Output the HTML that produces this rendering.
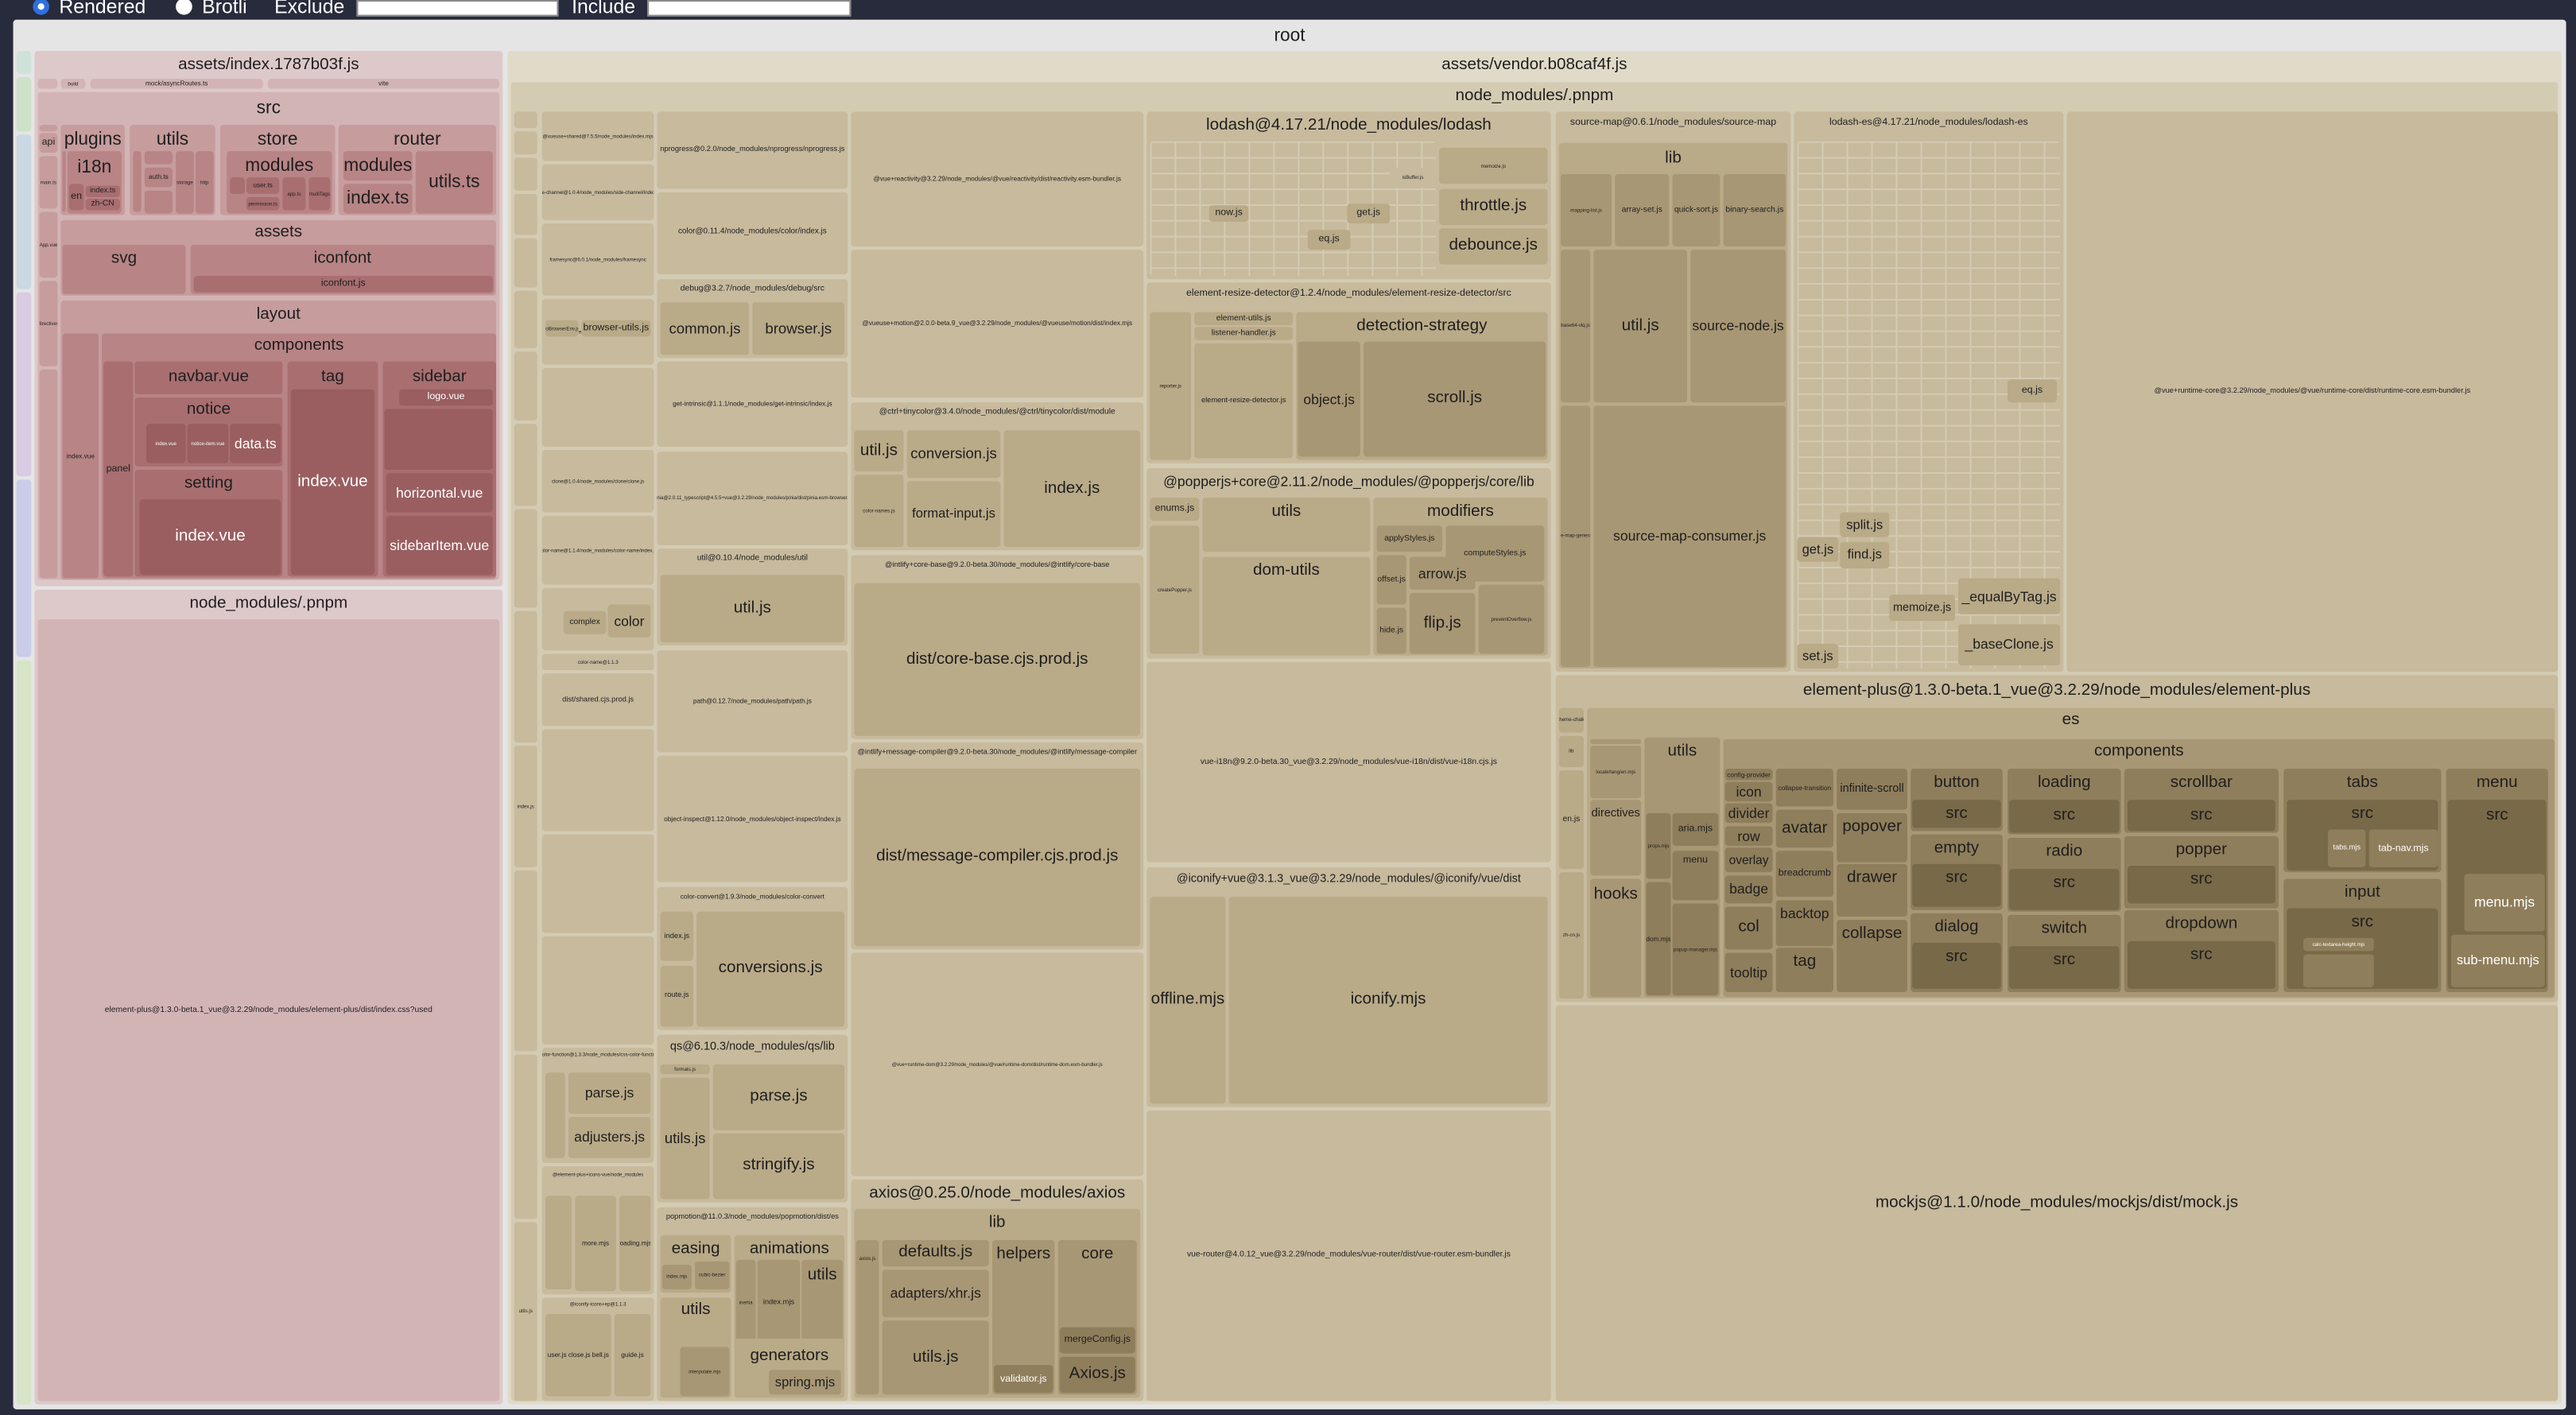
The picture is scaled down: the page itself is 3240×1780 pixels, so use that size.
<!DOCTYPE html>
<html><head><meta charset="utf-8"><style>
html,body{margin:0;padding:0;background:#282b3c;width:3240px;height:1780px;overflow:hidden}
#w{position:absolute;left:0;top:0;width:1568px;height:861px;transform:scale(2.0663);transform-origin:0 0;font-family:"Liberation Sans",sans-serif}
.b{position:absolute;box-sizing:border-box;border-radius:2px;display:flex;justify-content:center;align-items:center;text-align:center;overflow:hidden;white-space:nowrap;color:#1e1e1e;line-height:1;font-size:5px}
.t{align-items:flex-start;padding-top:4px}
.s{font-size:3px}.m{font-size:6px}.l{font-size:8.5px}.x{font-size:10px}.xl{font-size:11px}
.w{color:#fff}
.p0{background:#dec9ca}.p1{background:#d3b4b5}.p2{background:#c69c9d}.p3{background:#b88486}.p4{background:#a86e70}.p5{background:#9a5e60}
.t0{background:#e0dac8}.t1{background:#d4cbb3}.t2{background:#c7ba9d}.t3{background:#b9aa88}.t4{background:#a89774}.t5{background:#8f7e5b}.t6{background:#786948}
.g{background:linear-gradient(90deg,#d4cbb3 1px,transparent 1px) 0 0/15px 100%,linear-gradient(#d4cbb3 1px,transparent 1px) 0 0/100% 9.6px,#c7ba9d}
.top{position:absolute;top:-3px;font-size:12px;color:#fff;display:flex;align-items:center}
.rad{width:10px;height:10px;border-radius:50%;background:#fff;display:inline-block;margin-right:6px;box-sizing:border-box}
.inp{position:absolute;top:0;height:10px;background:#fff;border:1px solid #888;box-sizing:border-box}
</style></head><body><div id="w">
<div class="top" style="left:20px"><span class="rad" style="border:3px solid #2f6fe0"></span>Rendered</div>
<div class="top" style="left:107px"><span class="rad"></span>Brotli</div>
<div class="top" style="left:167px">Exclude</div><div class="inp" style="left:217px;width:123px"></div>
<div class="top" style="left:348px">Include</div><div class="inp" style="left:394px;width:124px"></div>

<div class="b t xl" style="left:8px;top:12px;width:1554px;height:846px;background:#e5e5e5;padding-top:5px">root</div>
<div class="b" style="left:10px;top:31px;width:9px;height:14px;background:#cfe2d9"></div>
<div class="b" style="left:10px;top:47px;width:9px;height:33px;background:#cde2c8"></div>
<div class="b" style="left:10px;top:82px;width:9px;height:94px;background:#c9d8e2"></div>
<div class="b" style="left:10px;top:178px;width:9px;height:112px;background:#d8cbe2"></div>
<div class="b" style="left:10px;top:292px;width:9px;height:108px;background:#c9cdea"></div>
<div class="b" style="left:10px;top:402px;width:9px;height:453px;background:#d6e5c8"></div>

<!-- pink -->
<div class="b t x p0" style="left:21px;top:31px;width:285px;height:326px">assets/index.1787b03f.js</div>
<div class="b p1" style="left:23px;top:48px;width:12px;height:6px"></div>
<div class="b p1 s" style="left:37px;top:48px;width:15px;height:6px">build</div>
<div class="b p1 s" style="left:55px;top:48px;width:105px;height:6px;font-size:4px">mock/asyncRoutes.ts</div>
<div class="b p1 s" style="left:163px;top:48px;width:141px;height:6px;font-size:4px">vite</div>
<div class="b t xl p1" style="left:23px;top:56px;width:281px;height:297px;padding-top:5px">src</div>
<div class="b p2" style="left:24px;top:76px;width:11px;height:4px"></div>
<div class="b p2 m" style="left:24px;top:81px;width:11px;height:12px">api</div>
<div class="b p2 s" style="left:24px;top:95px;width:11px;height:32px">main.ts</div>
<div class="b p2 s" style="left:24px;top:129px;width:11px;height:40px">App.vue</div>
<div class="b p2 s" style="left:24px;top:171px;width:11px;height:52px">directives</div>
<div class="b p2 s" style="left:24px;top:225px;width:11px;height:127px"></div>
<div class="b t xl p2" style="left:37px;top:76px;width:39px;height:55px;padding-top:4px">plugins</div>
<div class="b p3" style="left:38px;top:92px;width:2px;height:37px"></div>
<div class="b t xl p3" style="left:41px;top:92px;width:33px;height:38px;padding-top:5px">i18n</div>
<div class="b p4 m" style="left:42px;top:112px;width:9px;height:16px">en</div>
<div class="b p4 s" style="left:52px;top:113px;width:21px;height:7px;font-size:4.5px">index.ts</div>
<div class="b p4 s" style="left:52px;top:121px;width:21px;height:7px;font-size:5px">zh-CN</div>
<div class="b t xl p2" style="left:79px;top:76px;width:52px;height:55px;padding-top:4px">utils</div>
<div class="b p3" style="left:81px;top:92px;width:5px;height:37px"></div>
<div class="b p3" style="left:88px;top:92px;width:17px;height:8px"></div>
<div class="b p3 s" style="left:88px;top:102px;width:17px;height:12px;font-size:4px">auth.ts</div>
<div class="b p3" style="left:88px;top:116px;width:17px;height:14px"></div>
<div class="b p3 s" style="left:107px;top:92px;width:11px;height:38px">storage</div>
<div class="b p3 s" style="left:119px;top:92px;width:11px;height:38px">http</div>
<div class="b t xl p2" style="left:134px;top:76px;width:70px;height:55px;padding-top:4px">store</div>
<div class="b t xl p3" style="left:138px;top:92px;width:64px;height:38px;padding-top:4px">modules</div>
<div class="b p4" style="left:140px;top:108px;width:9px;height:10px"></div>
<div class="b p4 s" style="left:150px;top:108px;width:20px;height:10px;font-size:4px">user.ts</div>
<div class="b p4 s" style="left:150px;top:120px;width:20px;height:8px">permission.ts</div>
<div class="b p4 s" style="left:172px;top:108px;width:14px;height:20px">app.ts</div>
<div class="b p4 s" style="left:188px;top:108px;width:13px;height:20px">multiTags</div>
<div class="b t xl p2" style="left:206px;top:76px;width:96px;height:55px;padding-top:4px">router</div>
<div class="b p3 xl" style="left:209px;top:92px;width:42px;height:18px">modules</div>
<div class="b p3 xl" style="left:209px;top:112px;width:42px;height:18px">index.ts</div>
<div class="b p3 xl" style="left:253px;top:92px;width:47px;height:38px">utils.ts</div>
<div class="b t x p2" style="left:37px;top:134px;width:265px;height:46px;padding-top:3px">assets</div>
<div class="b t x p3" style="left:38px;top:149px;width:75px;height:30px;padding-top:4px">svg</div>
<div class="b t x p3" style="left:116px;top:149px;width:185px;height:30px;padding-top:4px">iconfont</div>
<div class="b p4 m" style="left:118px;top:168px;width:182px;height:10px">iconfont.js</div>
<div class="b t x p2" style="left:37px;top:183px;width:265px;height:170px;padding-top:4px">layout</div>
<div class="b p3 s" style="left:38px;top:203px;width:22px;height:149px;font-size:4px">index.vue</div>
<div class="b t x p3" style="left:62px;top:203px;width:240px;height:149px;padding-top:3px">components</div>
<div class="b p4 m" style="left:63px;top:220px;width:18px;height:131px">panel</div>
<div class="b p4 x" style="left:82px;top:220px;width:90px;height:20px">navbar.vue</div>
<div class="b t x p4" style="left:82px;top:242px;width:90px;height:42px;padding-top:3px">notice</div>
<div class="b p5 s w" style="left:89px;top:258px;width:24px;height:24px">index.vue</div>
<div class="b p5 s w" style="left:114px;top:258px;width:25px;height:24px">notice-item.vue</div>
<div class="b p5 l w" style="left:140px;top:258px;width:31px;height:24px">data.ts</div>
<div class="b t x p4" style="left:82px;top:286px;width:90px;height:65px;padding-top:4px">setting</div>
<div class="b p5 x w" style="left:85px;top:304px;width:86px;height:46px">index.vue</div>
<div class="b t x p4" style="left:175px;top:220px;width:55px;height:131px;padding-top:5px">tag</div>
<div class="b p5 x w" style="left:177px;top:237px;width:51px;height:113px">index.vue</div>
<div class="b t x p4" style="left:233px;top:220px;width:69px;height:131px;padding-top:5px">sidebar</div>
<div class="b p5 m w" style="left:243px;top:237px;width:57px;height:10px">logo.vue</div>
<div class="b p5" style="left:234px;top:249px;width:66px;height:37px"></div>
<div class="b p5 l w" style="left:235px;top:288px;width:65px;height:24px">horizontal.vue</div>
<div class="b p5 l w" style="left:235px;top:314px;width:65px;height:36px">sidebarItem.vue</div>
<div class="b t x p0" style="left:21px;top:359px;width:285px;height:496px;padding-top:4px">node_modules/.pnpm</div>
<div class="b p1" style="left:23px;top:377px;width:281px;height:476px">element-plus@1.3.0-beta.1_vue@3.2.29/node_modules/element-plus/dist/index.css?used</div>

<!-- tan -->
<div class="b t x t0" style="left:309px;top:31px;width:1250px;height:824px;padding-top:4px">assets/vendor.b08caf4f.js</div>
<div class="b t x t1" style="left:311px;top:50px;width:1246px;height:803px;padding-top:4px">node_modules/.pnpm</div>
<!-- col A -->
<div class="b t2" style="left:313px;top:68px;width:14px;height:10px"></div>
<div class="b t2" style="left:313px;top:80px;width:14px;height:14px"></div>
<div class="b t2" style="left:313px;top:96px;width:14px;height:20px"></div>
<div class="b t2" style="left:313px;top:118px;width:14px;height:25px"></div>
<div class="b t2" style="left:313px;top:145px;width:14px;height:30px"></div>
<div class="b t2" style="left:313px;top:177px;width:14px;height:35px"></div>
<div class="b t2" style="left:313px;top:214px;width:14px;height:42px"></div>
<div class="b t2" style="left:313px;top:258px;width:14px;height:50px"></div>
<div class="b t2" style="left:313px;top:310px;width:14px;height:60px"></div>
<div class="b t2" style="left:313px;top:372px;width:14px;height:80px"></div>
<div class="b t2 s" style="left:313px;top:454px;width:14px;height:74px">index.js</div>
<div class="b t2" style="left:313px;top:530px;width:14px;height:110px"></div>
<div class="b t2" style="left:313px;top:642px;width:14px;height:100px"></div>
<div class="b t2 s" style="left:313px;top:744px;width:14px;height:109px">utils.js</div>
<!-- col B -->
<div class="b t2 s" style="left:330px;top:68px;width:68px;height:30px">@vueuse+shared@7.5.5/node_modules/index.mjs</div>
<div class="b t2 s" style="left:330px;top:100px;width:68px;height:34px">side-channel@1.0.4/node_modules/side-channel/index.js</div>
<div class="b t2 s" style="left:330px;top:136px;width:68px;height:44px">framesync@6.0.1/node_modules/framesync</div>
<div class="b t2 s" style="left:330px;top:182px;width:68px;height:40px">responsive-storage</div>
<div class="b t2" style="left:330px;top:224px;width:68px;height:48px"></div>
<div class="b t3 s" style="left:332px;top:195px;width:20px;height:10px">toBrowserEnv.js</div>
<div class="b t3 m" style="left:354px;top:195px;width:42px;height:10px">browser-utils.js</div>
<div class="b t2 s" style="left:330px;top:274px;width:68px;height:38px">clone@1.0.4/node_modules/clone/clone.js</div>
<div class="b t2 s" style="left:330px;top:314px;width:68px;height:42px">color-name@1.1.4/node_modules/color-name/index.js</div>
<div class="b t2" style="left:330px;top:358px;width:68px;height:38px"></div>
<div class="b t3 s" style="left:343px;top:372px;width:26px;height:14px;font-size:5px">complex</div>
<div class="b t3 l" style="left:370px;top:368px;width:26px;height:20px">color</div>
<div class="b t2 s" style="left:330px;top:398px;width:68px;height:10px">color-name@1.1.3</div>
<div class="b t2 s" style="left:330px;top:410px;width:68px;height:32px;font-size:4.5px">dist/shared.cjs.prod.js</div>
<div class="b t2" style="left:330px;top:444px;width:68px;height:62px"></div>
<div class="b t2" style="left:330px;top:508px;width:68px;height:60px"></div>
<div class="b t2" style="left:330px;top:570px;width:68px;height:66px"></div>
<div class="b t2 s" style="left:330px;top:638px;width:68px;height:70px;align-items:flex-start;padding-top:3px">css-color-function@1.3.3/node_modules/css-color-function/lib</div>
<div class="b t3" style="left:332px;top:653px;width:12px;height:52px"></div>
<div class="b t3 l" style="left:346px;top:653px;width:50px;height:25px">parse.js</div>
<div class="b t3 l" style="left:346px;top:680px;width:50px;height:25px">adjusters.js</div>
<div class="b t2 s" style="left:330px;top:710px;width:68px;height:78px;align-items:flex-start;padding-top:4px">@element-plus+icons-vue/node_modules</div>
<div class="b t3 s" style="left:332px;top:728px;width:16px;height:57px"></div>
<div class="b t3 s" style="left:350px;top:728px;width:25px;height:58px;font-size:4px">more.mjs</div>
<div class="b t3 s" style="left:377px;top:728px;width:19px;height:58px;font-size:4px">loading.mjs</div>
<div class="b t2 s" style="left:330px;top:790px;width:68px;height:63px;align-items:flex-start;padding-top:3px">@iconify-icons+ep@1.1.3</div>
<div class="b t3 s" style="left:332px;top:800px;width:40px;height:50px;font-size:4px">user.js close.js bell.js</div>
<div class="b t3 s" style="left:374px;top:800px;width:22px;height:50px;font-size:4px">guide.js</div>
<!-- col C -->
<div class="b t2" style="left:400px;top:68px;width:116px;height:47px;font-size:4.5px">nprogress@0.2.0/node_modules/nprogress/nprogress.js</div>
<div class="b t2" style="left:400px;top:117px;width:116px;height:50px;font-size:4.8px">color@0.11.4/node_modules/color/index.js</div>
<div class="b t2 t" style="left:400px;top:170px;width:116px;height:48px">debug@3.2.7/node_modules/debug/src</div>
<div class="b t3 l" style="left:402px;top:184px;width:54px;height:32px;font-size:9px">common.js</div>
<div class="b t3 l" style="left:458px;top:184px;width:56px;height:32px;font-size:9px">browser.js</div>
<div class="b t2" style="left:400px;top:220px;width:116px;height:52px;font-size:4px">get-intrinsic@1.1.1/node_modules/get-intrinsic/index.js</div>
<div class="b t2 s" style="left:400px;top:275px;width:116px;height:57px">pinia@2.0.11_typescript@4.5.5+vue@3.2.29/node_modules/pinia/dist/pinia.esm-browser.js</div>
<div class="b t2 t" style="left:400px;top:334px;width:116px;height:59px">util@0.10.4/node_modules/util</div>
<div class="b t3 x" style="left:402px;top:350px;width:112px;height:41px">util.js</div>
<div class="b t2" style="left:400px;top:396px;width:116px;height:62px;font-size:4px">path@0.12.7/node_modules/path/path.js</div>
<div class="b t2" style="left:400px;top:460px;width:116px;height:77px;font-size:4px">object-inspect@1.12.0/node_modules/object-inspect/index.js</div>
<div class="b t2 t" style="left:400px;top:540px;width:116px;height:87px;font-size:4px">color-convert@1.9.3/node_modules/color-convert</div>
<div class="b t3 s" style="left:402px;top:555px;width:20px;height:30px;font-size:4.5px">index.js</div>
<div class="b t3 s" style="left:402px;top:588px;width:20px;height:37px;font-size:4.5px">route.js</div>
<div class="b t3 x" style="left:424px;top:555px;width:90px;height:70px">conversions.js</div>
<div class="b t2 t m" style="left:400px;top:630px;width:116px;height:102px;font-size:7px">qs@6.10.3/node_modules/qs/lib</div>
<div class="b t3 s" style="left:402px;top:648px;width:30px;height:6px">formats.js</div>
<div class="b t3 x" style="left:402px;top:656px;width:30px;height:74px;font-size:9px">utils.js</div>
<div class="b t3 x" style="left:434px;top:648px;width:80px;height:40px">parse.js</div>
<div class="b t3 x" style="left:434px;top:690px;width:80px;height:40px">stringify.js</div>
<div class="b t2 t s" style="left:400px;top:735px;width:116px;height:118px;font-size:4.5px">popmotion@11.0.3/node_modules/popmotion/dist/es</div>
<div class="b t3 t x" style="left:402px;top:752px;width:43px;height:35px">easing</div>
<div class="b t4 s" style="left:403px;top:770px;width:18px;height:15px">index.mjs</div>
<div class="b t4 s" style="left:423px;top:768px;width:21px;height:17px">cubic-bezier</div>
<div class="b t3 t x" style="left:402px;top:790px;width:43px;height:61px;padding-top:3px">utils</div>
<div class="b t4 s" style="left:414px;top:820px;width:30px;height:30px">interpolate.mjs</div>
<div class="b t3 t x" style="left:447px;top:752px;width:67px;height:70px">animations</div>
<div class="b t4 s" style="left:448px;top:767px;width:12px;height:53px">inertia</div>
<div class="b t4 s" style="left:461px;top:767px;width:26px;height:53px;font-size:4.5px">index.mjs</div>
<div class="b t4 t x" style="left:488px;top:767px;width:25px;height:53px;padding-top:5px">utils</div>
<div class="b t3 t x" style="left:447px;top:815px;width:67px;height:36px;padding-top:6px">generators</div>
<div class="b t4 m" style="left:468px;top:834px;width:44px;height:15px;font-size:8px">spring.mjs</div>
<!-- col D -->
<div class="b t2" style="left:518px;top:68px;width:178px;height:82px;font-size:4px">@vue+reactivity@3.2.29/node_modules/@vue/reactivity/dist/reactivity.esm-bundler.js</div>
<div class="b t2" style="left:518px;top:152px;width:178px;height:90px;font-size:4px">@vueuse+motion@2.0.0-beta.9_vue@3.2.29/node_modules/@vueuse/motion/dist/index.mjs</div>
<div class="b t2 t" style="left:518px;top:245px;width:178px;height:90px;font-size:5px">@ctrl+tinycolor@3.4.0/node_modules/@ctrl/tinycolor/dist/module</div>
<div class="b t3 x" style="left:520px;top:262px;width:30px;height:25px">util.js</div>
<div class="b t3 s" style="left:520px;top:289px;width:30px;height:44px">color-names.js</div>
<div class="b t3 x" style="left:552px;top:262px;width:57px;height:29px;font-size:9px">conversion.js</div>
<div class="b t3 m" style="left:552px;top:293px;width:57px;height:40px;font-size:8px">format-input.js</div>
<div class="b t3 x" style="left:611px;top:262px;width:83px;height:71px">index.js</div>
<div class="b t2 t" style="left:518px;top:338px;width:178px;height:112px;font-size:4.5px">@intlify+core-base@9.2.0-beta.30/node_modules/@intlify/core-base</div>
<div class="b t3 x" style="left:520px;top:355px;width:174px;height:93px">dist/core-base.cjs.prod.js</div>
<div class="b t2 t" style="left:518px;top:452px;width:178px;height:126px;font-size:4.5px">@intlify+message-compiler@9.2.0-beta.30/node_modules/@intlify/message-compiler</div>
<div class="b t3 x" style="left:520px;top:468px;width:174px;height:108px">dist/message-compiler.cjs.prod.js</div>
<div class="b t2 s" style="left:518px;top:580px;width:178px;height:136px">@vue+runtime-dom@3.2.29/node_modules/@vue/runtime-dom/dist/runtime-dom.esm-bundler.js</div>
<div class="b t2 t x" style="left:518px;top:718px;width:178px;height:135px">axios@0.25.0/node_modules/axios</div>
<div class="b t3 t x" style="left:520px;top:736px;width:174px;height:115px">lib</div>
<div class="b t4 s" style="left:521px;top:755px;width:14px;height:94px;align-items:flex-start;padding-top:10px">axios.js</div>
<div class="b t4 x" style="left:537px;top:755px;width:65px;height:16px">defaults.js</div>
<div class="b t4 l" style="left:537px;top:773px;width:65px;height:29px">adapters/xhr.js</div>
<div class="b t4 x" style="left:537px;top:804px;width:65px;height:45px">utils.js</div>
<div class="b t4 t x" style="left:604px;top:755px;width:38px;height:94px">helpers</div>
<div class="b t5 s w" style="left:605px;top:831px;width:36px;height:17px;font-size:6px">validator.js</div>
<div class="b t4 t x" style="left:644px;top:755px;width:48px;height:94px">core</div>
<div class="b t5 m" style="left:645px;top:808px;width:46px;height:16px">mergeConfig.js</div>
<div class="b t5 x" style="left:645px;top:826px;width:46px;height:22px">Axios.js</div>
<!-- col E -->
<div class="b t2 t x" style="left:698px;top:68px;width:246px;height:102px">lodash@4.17.21/node_modules/lodash</div>
<div class="b g" style="left:700px;top:86px;width:174px;height:82px"></div>
<div class="b t3 m" style="left:736px;top:125px;width:24px;height:10px">now.js</div>
<div class="b t3 m" style="left:796px;top:140px;width:26px;height:12px">eq.js</div>
<div class="b t3 m" style="left:820px;top:124px;width:26px;height:12px">get.js</div>
<div class="b t2 s" style="left:846px;top:102px;width:28px;height:12px">isBuffer.js</div>
<div class="b t3 x" style="left:876px;top:115px;width:66px;height:22px">throttle.js</div>
<div class="b t3 x" style="left:876px;top:139px;width:66px;height:22px">debounce.js</div>
<div class="b t3 s" style="left:876px;top:90px;width:66px;height:22px">memoize.js</div>
<div class="b t2 t m" style="left:698px;top:172px;width:246px;height:110px">element-resize-detector@1.2.4/node_modules/element-resize-detector/src</div>
<div class="b t3 s" style="left:700px;top:190px;width:25px;height:90px">reporter.js</div>
<div class="b t3 s" style="left:727px;top:190px;width:60px;height:8px;font-size:5px">element-utils.js</div>
<div class="b t3 s" style="left:727px;top:199px;width:60px;height:8px;font-size:5px">listener-handler.js</div>
<div class="b t3 s" style="left:727px;top:209px;width:60px;height:70px;font-size:4.5px">element-resize-detector.js</div>
<div class="b t3 t x" style="left:789px;top:190px;width:153px;height:90px">detection-strategy</div>
<div class="b t4 l" style="left:790px;top:208px;width:38px;height:70px">object.js</div>
<div class="b t4 x" style="left:830px;top:208px;width:111px;height:70px">scroll.js</div>
<div class="b t2 t l" style="left:698px;top:285px;width:246px;height:116px">@popperjs+core@2.11.2/node_modules/@popperjs/core/lib</div>
<div class="b t3 m" style="left:700px;top:303px;width:30px;height:14px">enums.js</div>
<div class="b t3 s" style="left:700px;top:320px;width:30px;height:78px">createPopper.js</div>
<div class="b t3 t x" style="left:732px;top:303px;width:102px;height:33px">utils</div>
<div class="b t3 t x" style="left:732px;top:339px;width:102px;height:60px">dom-utils</div>
<div class="b t3 t x" style="left:836px;top:303px;width:106px;height:96px">modifiers</div>
<div class="b t4 s" style="left:838px;top:320px;width:40px;height:16px;font-size:5px">applyStyles.js</div>
<div class="b t4 s" style="left:880px;top:320px;width:60px;height:34px;font-size:5px">computeStyles.js</div>
<div class="b t4 l" style="left:858px;top:339px;width:40px;height:20px">arrow.js</div>
<div class="b t4 s" style="left:838px;top:338px;width:18px;height:30px;font-size:5px">offset.js</div>
<div class="b t4 x" style="left:858px;top:361px;width:40px;height:37px">flip.js</div>
<div class="b t4 s" style="left:838px;top:370px;width:18px;height:28px;font-size:5px">hide.js</div>
<div class="b t4 s" style="left:900px;top:356px;width:40px;height:42px">preventOverflow.js</div>
<div class="b t2" style="left:698px;top:403px;width:246px;height:122px">vue-i18n@9.2.0-beta.30_vue@3.2.29/node_modules/vue-i18n/dist/vue-i18n.cjs.js</div>
<div class="b t2 t" style="left:698px;top:528px;width:246px;height:146px;font-size:7px">@iconify+vue@3.1.3_vue@3.2.29/node_modules/@iconify/vue/dist</div>
<div class="b t3 x" style="left:700px;top:546px;width:46px;height:126px">offline.mjs</div>
<div class="b t3 x" style="left:748px;top:546px;width:194px;height:126px">iconify.mjs</div>
<div class="b t2" style="left:698px;top:676px;width:246px;height:177px">vue-router@4.0.12_vue@3.2.29/node_modules/vue-router/dist/vue-router.esm-bundler.js</div>
<!-- source-map -->
<div class="b t2 t m" style="left:947px;top:68px;width:143px;height:341px">source-map@0.6.1/node_modules/source-map</div>
<div class="b t3 t x" style="left:949px;top:87px;width:139px;height:320px;padding-top:5px">lib</div>
<div class="b t4 s" style="left:950px;top:106px;width:31px;height:44px">mapping-list.js</div>
<div class="b t4 s" style="left:983px;top:106px;width:33px;height:44px;font-size:5px">array-set.js</div>
<div class="b t4 s" style="left:1018px;top:106px;width:29px;height:44px;font-size:5px">quick-sort.js</div>
<div class="b t4 s" style="left:1049px;top:106px;width:38px;height:44px;font-size:5px">binary-search.js</div>
<div class="b t4 s" style="left:950px;top:152px;width:18px;height:93px">base64-vlq.js</div>
<div class="b t4 x" style="left:970px;top:152px;width:57px;height:93px">util.js</div>
<div class="b t4 l" style="left:1029px;top:152px;width:58px;height:93px">source-node.js</div>
<div class="b t4 s" style="left:950px;top:247px;width:18px;height:159px">source-map-generator.js</div>
<div class="b t4 l" style="left:970px;top:247px;width:117px;height:159px">source-map-consumer.js</div>
<!-- lodash-es -->
<div class="b t2 t m" style="left:1092px;top:68px;width:164px;height:341px">lodash-es@4.17.21/node_modules/lodash-es</div>
<div class="b g" style="left:1094px;top:86px;width:160px;height:321px"></div>
<div class="b t3 m" style="left:1222px;top:231px;width:30px;height:14px">eq.js</div>
<div class="b t3 m" style="left:1120px;top:312px;width:30px;height:15px;font-size:8px">split.js</div>
<div class="b t3 m" style="left:1094px;top:327px;width:25px;height:15px;font-size:8px">get.js</div>
<div class="b t3 m" style="left:1120px;top:330px;width:30px;height:16px;font-size:8px">find.js</div>
<div class="b t3 m" style="left:1150px;top:362px;width:40px;height:16px;font-size:7px">memoize.js</div>
<div class="b t3 l" style="left:1192px;top:352px;width:62px;height:22px">_equalByTag.js</div>
<div class="b t3 l" style="left:1192px;top:380px;width:62px;height:25px">_baseClone.js</div>
<div class="b t3 m" style="left:1094px;top:392px;width:25px;height:15px;font-size:8px">set.js</div>
<div class="b t2" style="left:1258px;top:68px;width:299px;height:341px;font-size:4.5px">@vue+runtime-core@3.2.29/node_modules/@vue/runtime-core/dist/runtime-core.esm-bundler.js</div>
<!-- element-plus -->
<div class="b t2 t x" style="left:947px;top:411px;width:610px;height:199px;padding-top:5px">element-plus@1.3.0-beta.1_vue@3.2.29/node_modules/element-plus</div>
<div class="b t3 s" style="left:949px;top:431px;width:15px;height:15px">theme-chalk</div>
<div class="b t3 s" style="left:949px;top:448px;width:15px;height:19px">lib</div>
<div class="b t3 s" style="left:949px;top:469px;width:15px;height:60px;font-size:5px">en.js</div>
<div class="b t3 s" style="left:949px;top:531px;width:15px;height:77px">zh-cn.js</div>
<div class="b t3 t x" style="left:966px;top:431px;width:589px;height:177px;padding-top:3px">es</div>
<div class="b t4 s" style="left:968px;top:450px;width:31px;height:3px"></div>
<div class="b t4 s" style="left:968px;top:454px;width:31px;height:32px">locale/lang/en.mjs</div>
<div class="b t4 t m" style="left:968px;top:487px;width:31px;height:46px;padding-top:5px;font-size:7px">directives</div>
<div class="b t4 t x" style="left:968px;top:535px;width:31px;height:72px;padding-top:5px">hooks</div>
<div class="b t4 t x" style="left:1001px;top:449px;width:46px;height:158px">utils</div>
<div class="b t5 s" style="left:1002px;top:537px;width:15px;height:69px;font-size:4px">dom.mjs</div>
<div class="b t5 t m" style="left:1018px;top:518px;width:28px;height:30px;padding-top:3px">menu</div>
<div class="b t5 s" style="left:1002px;top:495px;width:15px;height:40px">props.mjs</div>
<div class="b t5 m" style="left:1018px;top:495px;width:28px;height:20px">aria.mjs</div>
<div class="b t5 s" style="left:1018px;top:550px;width:28px;height:56px">popup-manager.mjs</div>
<div class="b t4 t x" style="left:1049px;top:450px;width:506px;height:157px;padding-top:3px">components</div>
<div class="b t5 s" style="left:1050px;top:468px;width:29px;height:7px;font-size:4px">config-provider</div>
<div class="b t5 l" style="left:1050px;top:476px;width:29px;height:12px">icon</div>
<div class="b t5 l" style="left:1050px;top:489px;width:29px;height:12px">divider</div>
<div class="b t5 l" style="left:1050px;top:503px;width:29px;height:12px">row</div>
<div class="b t5 l" style="left:1050px;top:516px;width:29px;height:15px;font-size:7.5px">overlay</div>
<div class="b t5 l" style="left:1050px;top:533px;width:29px;height:17px">badge</div>
<div class="b t5 x" style="left:1050px;top:552px;width:29px;height:26px">col</div>
<div class="b t5 l" style="left:1050px;top:580px;width:29px;height:24px">tooltip</div>
<div class="b t5 s" style="left:1081px;top:468px;width:35px;height:23px;font-size:4px">collapse-transition</div>
<div class="b t5 x" style="left:1081px;top:493px;width:35px;height:23px">avatar</div>
<div class="b t5 m" style="left:1081px;top:518px;width:35px;height:28px">breadcrumb</div>
<div class="b t5 t l" style="left:1081px;top:548px;width:35px;height:28px">backtop</div>
<div class="b t5 t x" style="left:1081px;top:577px;width:35px;height:27px">tag</div>
<div class="b t5 s" style="left:1118px;top:468px;width:43px;height:25px;font-size:7px">infinite-scroll</div>
<div class="b t5 t x" style="left:1118px;top:495px;width:43px;height:30px">popover</div>
<div class="b t5 t x" style="left:1118px;top:526px;width:43px;height:32px">drawer</div>
<div class="b t5 t x" style="left:1118px;top:560px;width:43px;height:44px">collapse</div>
<div class="b t5 t x" style="left:1163px;top:468px;width:56px;height:38px">button</div>
<div class="b t6 x" style="left:1164px;top:487px;width:54px;height:17px">src</div>
<div class="b t5 t x" style="left:1163px;top:508px;width:56px;height:46px">empty</div>
<div class="b t6 t x" style="left:1164px;top:526px;width:54px;height:26px">src</div>
<div class="b t5 t x" style="left:1163px;top:556px;width:56px;height:48px">dialog</div>
<div class="b t6 t x" style="left:1164px;top:574px;width:54px;height:28px">src</div>
<div class="b t5 t x" style="left:1222px;top:468px;width:69px;height:40px">loading</div>
<div class="b t6 x" style="left:1223px;top:487px;width:67px;height:20px">src</div>
<div class="b t5 t x" style="left:1222px;top:510px;width:69px;height:45px">radio</div>
<div class="b t6 t x" style="left:1223px;top:529px;width:67px;height:25px">src</div>
<div class="b t5 t x" style="left:1222px;top:557px;width:69px;height:47px">switch</div>
<div class="b t6 t x" style="left:1223px;top:576px;width:67px;height:26px">src</div>
<div class="b t5 t x" style="left:1293px;top:468px;width:94px;height:39px">scrollbar</div>
<div class="b t6 x" style="left:1295px;top:487px;width:90px;height:19px">src</div>
<div class="b t5 t x" style="left:1293px;top:509px;width:94px;height:44px">popper</div>
<div class="b t6 t x" style="left:1295px;top:527px;width:90px;height:23px">src</div>
<div class="b t5 t x" style="left:1293px;top:554px;width:94px;height:50px">dropdown</div>
<div class="b t6 t x" style="left:1295px;top:573px;width:90px;height:29px">src</div>
<div class="b t5 t x" style="left:1390px;top:468px;width:96px;height:63px">tabs</div>
<div class="b t6 t x" style="left:1392px;top:487px;width:92px;height:43px">src</div>
<div class="b t5 s w" style="left:1417px;top:505px;width:23px;height:23px;font-size:4.5px">tabs.mjs</div>
<div class="b t5 m w" style="left:1442px;top:505px;width:42px;height:23px">tab-nav.mjs</div>
<div class="b t5 t x" style="left:1390px;top:535px;width:96px;height:69px">input</div>
<div class="b t6 t x" style="left:1392px;top:553px;width:92px;height:49px">src</div>
<div class="b t5 s w" style="left:1402px;top:571px;width:43px;height:8px">calc-textarea-height.mjs</div>
<div class="b t5" style="left:1402px;top:581px;width:43px;height:20px"></div>
<div class="b t5 t x" style="left:1489px;top:468px;width:62px;height:136px">menu</div>
<div class="b t6 t x" style="left:1490px;top:487px;width:60px;height:115px;padding-top:5px">src</div>
<div class="b t5 l w" style="left:1500px;top:532px;width:49px;height:35px">menu.mjs</div>
<div class="b t5 l w" style="left:1492px;top:569px;width:57px;height:32px;font-size:8px">sub-menu.mjs</div>
<div class="b t2 x" style="left:947px;top:612px;width:610px;height:241px">mockjs@1.1.0/node_modules/mockjs/dist/mock.js</div>
</div></body></html>
